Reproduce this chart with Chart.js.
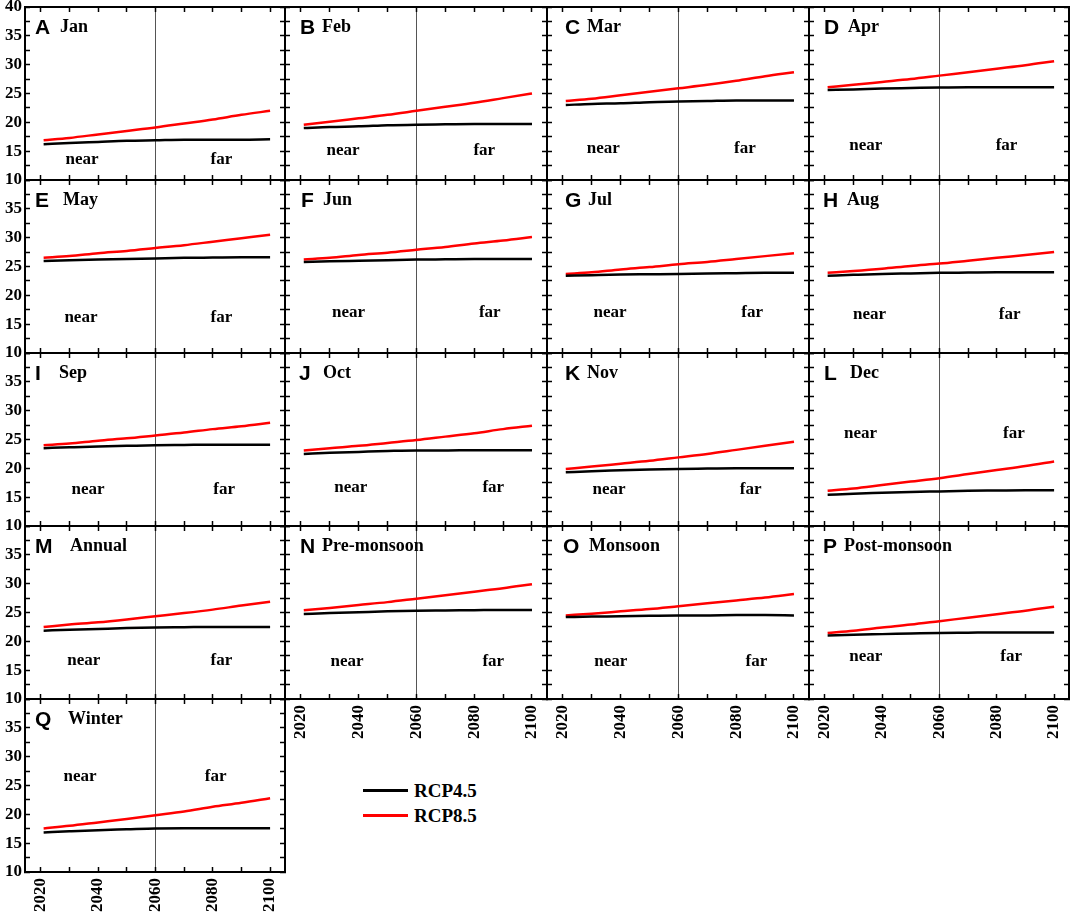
<!DOCTYPE html>
<html>
<head>
<meta charset="utf-8">
<title>RCP4.5 / RCP8.5 temperature projections</title>
<script src="https://cdn.jsdelivr.net/npm/chart.js@4.4.1/dist/chart.umd.min.js"></script>
<style>
  body { margin: 0; background: #fff; width: 1072px; height: 916px; position: relative; overflow: hidden; }
  canvas.panel { position: absolute; }
  #legend { position: absolute; left: 363px; top: 778px; font: bold 19px "Liberation Serif", "Times New Roman", serif; color: #000; }
  #legend div { height: 25px; display: flex; align-items: center; }
  #legend span.line { display: inline-block; width: 45px; height: 3px; margin-right: 6px; }
</style>
</head>
<body>
<div id="legend">
  <div><span class="line" style="background:#000"></span>RCP4.5</div>
  <div><span class="line" style="background:#ff0000"></span>RCP8.5</div>
</div>
<script>
var years = [2021, 2030, 2040, 2050, 2060, 2070, 2080, 2090, 2100];
var xTickLabels = [2020, 2040, 2060, 2080, 2100];
var yTickLabels = [10, 15, 20, 25, 30, 35, 40];

var letters = ["A", "B", "C", "D", "E", "F", "G", "H", "I", "J", "K", "L", "M", "N", "O", "P", "Q"];
var periods = ["Jan", "Feb", "Mar", "Apr", "May", "Jun", "Jul", "Aug", "Sep", "Oct", "Nov", "Dec",
               "Annual", "Pre-monsoon", "Monsoon", "Post-monsoon", "Winter"];

var rcp45 = [
  [16.2, 16.4, 16.6, 16.8, 16.9, 17.0, 17.0, 17.0, 17.05],
  [19.0, 19.2, 19.3, 19.5, 19.6, 19.65, 19.7, 19.7, 19.7],
  [23.0, 23.2, 23.3, 23.5, 23.6, 23.7, 23.8, 23.8, 23.8],
  [25.6, 25.7, 25.85, 25.95, 26.05, 26.1, 26.1, 26.1, 26.1],
  [25.95, 26.1, 26.2, 26.3, 26.4, 26.5, 26.55, 26.6, 26.6],
  [25.8, 25.9, 26.0, 26.1, 26.2, 26.25, 26.3, 26.3, 26.3],
  [23.4, 23.5, 23.6, 23.65, 23.7, 23.8, 23.85, 23.9, 23.9],
  [23.4, 23.55, 23.7, 23.8, 23.9, 23.95, 24.0, 24.0, 24.0],
  [23.5, 23.65, 23.8, 23.9, 24.0, 24.05, 24.1, 24.1, 24.1],
  [22.5, 22.7, 22.85, 23.0, 23.1, 23.1, 23.15, 23.15, 23.15],
  [19.3, 19.5, 19.65, 19.8, 19.9, 19.95, 20.0, 20.0, 20.0],
  [15.4, 15.6, 15.75, 15.9, 16.0, 16.1, 16.15, 16.2, 16.2],
  [21.85, 22.0, 22.15, 22.3, 22.4, 22.45, 22.5, 22.5, 22.5],
  [24.75, 24.9, 25.05, 25.2, 25.3, 25.35, 25.4, 25.45, 25.45],
  [24.2, 24.3, 24.35, 24.45, 24.5, 24.5, 24.55, 24.55, 24.5],
  [21.0, 21.15, 21.25, 21.35, 21.45, 21.5, 21.55, 21.55, 21.55],
  [16.85, 17.05, 17.25, 17.4, 17.55, 17.6, 17.6, 17.6, 17.6]
];

var rcp85 = [
  [16.9, 17.3, 17.9, 18.5, 19.1, 19.8, 20.5, 21.3, 22.0],
  [19.6, 20.1, 20.7, 21.3, 22.0, 22.7, 23.4, 24.2, 25.0],
  [23.7, 24.1, 24.7, 25.3, 25.9, 26.5, 27.2, 28.0, 28.7],
  [26.1, 26.5, 27.0, 27.5, 28.1, 28.7, 29.3, 29.9, 30.6],
  [26.5, 26.8, 27.3, 27.7, 28.2, 28.7, 29.3, 29.9, 30.5],
  [26.2, 26.5, 27.0, 27.4, 27.9, 28.4, 29.0, 29.5, 30.1],
  [23.7, 24.0, 24.5, 24.9, 25.4, 25.8, 26.3, 26.8, 27.3],
  [23.9, 24.2, 24.6, 25.1, 25.5, 26.0, 26.5, 27.0, 27.5],
  [24.0, 24.3, 24.8, 25.2, 25.7, 26.2, 26.8, 27.3, 27.9],
  [23.1, 23.5, 23.9, 24.4, 24.9, 25.5, 26.1, 26.8, 27.4],
  [19.9, 20.3, 20.8, 21.3, 21.9, 22.5, 23.2, 23.9, 24.6],
  [16.1, 16.5, 17.1, 17.7, 18.3, 19.0, 19.7, 20.4, 21.2],
  [22.5, 22.9, 23.3, 23.8, 24.35, 24.9, 25.5, 26.2, 26.85],
  [25.4, 25.8, 26.3, 26.8, 27.4, 28.0, 28.6, 29.2, 29.9],
  [24.5, 24.8, 25.2, 25.6, 26.1, 26.6, 27.1, 27.6, 28.2],
  [21.45, 21.85, 22.4, 22.9, 23.5, 24.1, 24.7, 25.3, 26.0],
  [17.55, 18.0, 18.6, 19.2, 19.85, 20.5, 21.3, 22.0, 22.8]
];

// where the "near" / "far" words sit in each panel (data units)
var nearYear = [2034.4, 2034.6, 2034, 2034.3, 2034, 2036.5, 2036.3, 2035.6, 2036.5, 2037.3, 2036, 2032.5, 2035, 2036, 2036.6, 2034.3, 2033.7];
var farYear = [2083, 2083.5, 2083, 2083.4, 2083, 2085.4, 2085.5, 2084.5, 2084, 2086.6, 2085, 2086, 2083, 2086.6, 2087, 2085, 2081];
var wordLevel = [13.5, 15.0, 15.4, 15.9, 16.0, 16.9, 16.9, 16.6, 16.3, 16.6, 16.3, 25.9, 16.6, 16.5, 16.5, 17.2, 26.5];

// panel title offsets from the plot's left edge
var letterDx = [10, 15, 18, 15, 10, 16, 18, 14, 10, 14, 18, 15, 10, 15, 16, 14, 10];
var nameDx = [35, 37, 40, 39, 38, 38, 41, 38, 34, 38, 40, 41, 45, 37, 42, 35, 43];

var colX = [25, 285, 547, 809];
var colW = [260, 262, 262, 260];
var rowY = [7, 180, 353, 526, 699];
var plotH = 173;
var padL = 30, padT = 8, padR = 4, padB = 45;

var serif = '"Liberation Serif", "Times New Roman", serif';
var tickFont = { family: serif, size: 17, weight: 'bold' };

var panelText = {
  id: 'panelText',
  afterDatasetsDraw: (chart, args, o) => {
    var c = chart.ctx, a = chart.chartArea;
    var sx = chart.scales.x, sy = chart.scales.y;
    c.save();
    c.fillStyle = '#000';
    c.textBaseline = 'alphabetic';
    c.font = 'bold 21px "Liberation Sans", Arial, sans-serif';
    c.fillText(o.letter, a.left + o.letterDx, a.top + 27);
    c.font = 'bold 18px ' + serif;
    c.fillText(o.name, a.left + o.nameDx, a.top + 25);
    c.font = 'bold 17px ' + serif;
    c.textAlign = 'center';
    var yw = sy.getPixelForValue(o.level) + 4;
    c.fillText('near', sx.getPixelForValue(o.nearX), yw);
    c.fillText('far', sx.getPixelForValue(o.farX), yw);
    c.restore();
  }
};

// pin each scale's box so the plot area lands on the grid exactly
var pinBox = (size, horizontal) => (s) => {
  if (horizontal) { s.height = size; } else { s.width = size; }
  s.paddingTop = 0; s.paddingBottom = 0; s.paddingLeft = 0; s.paddingRight = 0;
};

var edgeGrid = { drawOnChartArea: false, tickLength: -5, tickColor: '#000', tickWidth: 1.5 };
var edgeBorder = { color: '#000', width: 2 };

makePanel = (i) => {
  var row = Math.floor(i / 4), col = i % 4;
  var showX = (row === 3 && col > 0) || row === 4;
  var showY = col === 0;

  var canvas = document.createElement('canvas');
  canvas.className = 'panel';
  canvas.width = colW[col] + padL + padR;
  canvas.height = plotH + padT + padB;
  canvas.style.left = (colX[col] - padL) + 'px';
  canvas.style.top = (rowY[row] - padT) + 'px';
  document.body.appendChild(canvas);

  new Chart(canvas, {
    type: 'line',
    data: {
      datasets: [{
        label: 'RCP4.5',
        data: years.map((yr, k) => ({ x: yr, y: rcp45[i][k] })),
        borderColor: '#000',
        borderWidth: 2.5,
        pointRadius: 0,
        cubicInterpolationMode: 'monotone'
      }, {
        label: 'RCP8.5',
        data: years.map((yr, k) => ({ x: yr, y: rcp85[i][k] })),
        borderColor: '#ff0000',
        borderWidth: 2.5,
        pointRadius: 0,
        cubicInterpolationMode: 'monotone'
      }]
    },
    options: {
      responsive: false,
      animation: false,
      layout: { padding: { top: padT, right: padR, left: 0, bottom: 0 } },
      plugins: {
        legend: { display: false },
        tooltip: { enabled: false },
        panelText: {
          letter: letters[i], name: periods[i],
          letterDx: letterDx[i], nameDx: nameDx[i],
          nearX: nearYear[i], farX: farYear[i], level: wordLevel[i]
        }
      },
      scales: {
        x: {
          type: 'linear', position: 'bottom', min: 2014.5, max: 2105.2,
          afterFit: pinBox(padB, true),
          border: edgeBorder,
          grid: {
            drawOnChartArea: true,
            color: (ctx) => (ctx.tick && ctx.tick.value === 2060) ? '#555' : 'rgba(0,0,0,0)',
            lineWidth: 1,
            tickLength: -5, tickColor: '#000', tickWidth: 1.5
          },
          ticks: {
            display: showX, stepSize: 10, includeBounds: false, autoSkip: false,
            minRotation: 90, maxRotation: 90, padding: 11,
            color: '#000', font: tickFont,
            callback: (v) => xTickLabels.indexOf(v) >= 0 ? String(v) : ''
          }
        },
        xTop: {
          type: 'linear', position: 'top', min: 2014.5, max: 2105.2,
          afterFit: pinBox(0, true),
          border: edgeBorder, grid: edgeGrid,
          ticks: { display: false, stepSize: 10, includeBounds: false, autoSkip: false }
        },
        y: {
          type: 'linear', position: 'left', min: 10, max: 40,
          afterFit: pinBox(padL, false),
          border: edgeBorder, grid: edgeGrid,
          ticks: {
            display: showY, stepSize: 2.5, autoSkip: false, padding: 8,
            color: '#000', font: tickFont,
            callback: (v) => (yTickLabels.indexOf(v) >= 0 && !(row > 0 && v === 40)) ? String(v) : ''
          }
        },
        yRight: {
          type: 'linear', position: 'right', min: 10, max: 40,
          afterFit: pinBox(0, false),
          border: edgeBorder, grid: edgeGrid,
          ticks: { display: false, stepSize: 2.5, autoSkip: false }
        }
      }
    },
    plugins: [panelText]
  });
}

letters.forEach((l, i) => makePanel(i));
</script>
</body>
</html>
